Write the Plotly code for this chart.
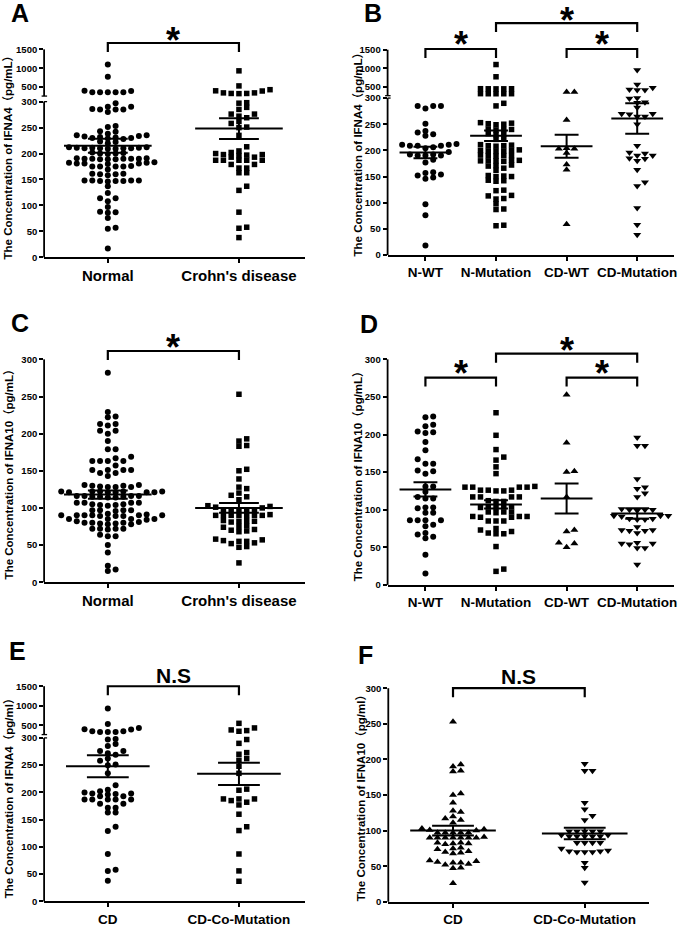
import plotly.graph_objects as go

W, H = 685, 927
FONT = "Liberation Sans, Arial, Noto Sans CJK SC, sans-serif"

# ---------------- data ----------------
# Panel A: IFNA4 (pg/mL)
A_categories = ["Normal", "Crohn's disease"]
A_normal = [1100, 770, 400, 362, 360, 360, 360, 362, 395, 297, 290, 285, 285, 280, 285, 286, 290,
            253, 251, 242, 238, 235, 234, 235, 233, 243, 230, 229, 231, 228, 230, 232, 222, 220, 223,
            212, 211, 210, 209, 210, 210, 209, 210, 211, 212, 211, 200, 201, 202, 199, 200,
            190, 191, 190, 189, 190, 190, 189, 189, 190, 191, 181, 182, 180, 183, 182, 181, 181,
            175, 175, 176, 175, 175, 169, 161, 160, 158, 160, 161, 148, 148, 147, 146, 148, 147, 147, 148,
            137, 124, 114, 114, 108, 97, 87, 86, 88, 76, 57, 55, 17]
A_crohn = [930, 530, 395, 345, 330, 325, 330, 345, 400, 430, 298, 297, 289, 285, 276, 276, 272, 269,
           262, 258, 251, 250, 235, 213, 202, 200, 205, 198, 197, 198, 196, 193, 193, 187, 187, 187,
           187, 187, 179, 179, 172, 172, 163, 163, 137, 129, 87, 58, 56, 38]
A_mean = [215, 248]
A_sem = [13.5, 20]

# Panel B: IFNA4 by genotype
B_categories = ["N-WT", "N-Mutation", "CD-WT", "CD-Mutation"]
B_nwt = [285, 285, 280, 285, 251, 231, 237, 234, 228, 209, 212, 211, 211, 209, 209, 206, 204, 197,
         190, 192, 192, 190, 190, 182, 177, 158, 157, 152, 154, 148, 146, 97, 76, 18]
B_nmut = [1100, 770, 445, 448, 446, 447, 444, 312, 313, 312, 314, 312, 290, 285,
          252, 250, 253, 251, 249, 240, 241, 239, 240, 231, 230, 232, 222, 221,
          209, 210, 208, 209, 211, 199, 200, 198, 199, 201, 200, 190, 191, 189, 190, 190,
          180, 181, 179, 180, 181, 180, 171, 172, 170, 166, 162, 152, 150, 151, 150, 142, 143, 141,
          123, 124, 114, 113, 108, 107, 98, 88, 87, 56, 57]
B_cdwt = [357, 357, 258, 203, 203, 204, 195, 173, 163, 59]
B_cdmut = [950, 562, 473, 411, 411, 429, 299, 300, 291, 292, 282, 270, 269, 270, 265, 265, 250,
           209, 196, 194, 190, 190, 185, 184, 180, 163, 139, 132, 90, 58, 39]
B_mean = [196, 228, 208, 261]
B_sem = [11, 10, 22, 29]

# Panel C: IFNA10 (pg/mL)
C_categories = ["Normal", "Crohn's disease"]
C_normal = [282, 229, 222, 223, 213, 213, 211, 204, 204, 200, 190, 179, 179, 169, 167,
            163, 163, 163, 163, 157, 151, 151, 151, 151, 147, 147, 143,
            131, 130, 129, 128, 128, 128, 130, 131,
            122, 121, 121, 121, 122, 122, 122, 121, 121, 122,
            115, 116, 114, 114, 115, 115, 116, 116, 116,
            105, 104, 103, 107, 107, 107, 105, 107, 104,
            97, 96, 97, 97, 97,
            90, 89, 90, 90, 90, 92, 91, 90, 89, 89, 90,
            85, 85, 84, 85, 85,
            79, 78, 80, 79, 80, 78, 80, 82, 81,
            72, 72, 72, 72, 71,
            64, 62, 62, 50, 40, 22, 15, 17]
C_crohn = [253, 193, 190, 184, 183, 152, 150, 139, 128, 126, 120, 117, 115, 111,
           103, 100, 101, 102, 97, 97, 97, 97, 97,
           90, 90, 91, 90, 90, 90, 90, 90,
           82, 83, 81, 82, 83, 76,
           74, 71, 69, 70, 68, 75,
           58, 55, 55, 57, 53, 56,
           48, 47, 52, 26]
C_mean = [118, 100]
C_sem = [5.5, 6.5]

# Panel D: IFNA10 by genotype
D_categories = ["N-WT", "N-Mutation", "CD-WT", "CD-Mutation"]
D_nwt = [223, 224, 213, 211, 202, 203, 204, 190, 179, 167, 161, 161, 152, 151, 148, 131, 131, 124,
         117, 115, 115, 103, 103, 102, 96, 96, 86, 86, 86, 86, 78, 80, 69, 67, 62, 64, 40, 15]
D_nmut = [229, 199, 180, 170, 166, 157, 148, 130, 130, 131, 130, 130, 125, 126, 126, 125, 126,
          117, 117, 117, 117, 111, 112, 111, 104, 103, 104, 104, 103, 97, 96, 97, 97,
          91, 90, 91, 91, 90, 85, 85, 85, 75, 73, 71, 69, 68, 68, 51, 18, 21]
D_cdwt = [253, 189, 150, 151, 117, 73, 71, 56, 50, 55]
D_cdmut = [196, 185, 185, 141, 130, 128, 122, 117, 100, 101, 100, 100, 99, 92, 91, 92, 92,
           87, 88, 87, 88, 77, 73, 72, 72, 73, 69, 55, 54, 55, 56, 49, 49, 27]
D_mean = [127, 107, 115, 95]
D_sem = [9.5, 5.5, 20, 7]

# Panel E: IFNA4 (pg/ml), CD vs CD co-mutation
E_categories = ["CD", "CD-Co-Mutation"]
E_cd = [930, 530, 395, 345, 330, 325, 330, 345, 400, 430, 298, 297, 289, 285, 276, 276, 272, 269,
        262, 258, 251, 250, 235, 213, 202, 200, 205, 198, 197, 198, 196, 193, 193, 187, 187, 187,
        187, 187, 179, 179, 172, 172, 163, 163, 137, 129, 87, 58, 56, 38]
E_comut = [550, 432, 364, 347, 381, 297, 290, 273, 270, 262, 259, 248, 235, 206, 204,
           188, 185, 188, 182, 188, 177, 160, 137, 130, 87, 56, 37]
E_mean = [248, 234]
E_sem = [20, 20.5]

# Panel F: IFNA10 (pg/ml), CD vs CD co-mutation
F_categories = ["CD", "CD-Co-Mutation"]
F_cd = [253, 193, 190, 184, 183, 152, 150, 139, 128, 126, 120, 117, 115, 111,
        103, 100, 101, 102, 97, 97, 97, 97, 97,
        90, 90, 91, 90, 90, 90, 90, 90,
        82, 83, 81, 82, 83, 76,
        74, 71, 69, 70, 68, 75,
        58, 55, 55, 57, 53, 56,
        48, 47, 52, 26]
F_comut = [194, 184, 184, 139, 130, 121, 115, 99, 99, 99, 99, 99, 92, 92, 92, 94, 92, 92, 94,
           83, 83, 83, 83, 75, 71, 71, 70, 70, 70, 72, 55, 48, 27]
F_mean = [100, 96]
F_sem = [7, 8]

LOW_TICKS = [0, 50, 100, 150, 200, 250, 300]
HIGH_TICKS = [500, 1000, 1500]

CIRC, SQ, TRI = 6, 5.5, 7

# ---------------- layout geometry (pixels) ----------------
panels = [
    dict(letter="A", lpos=(20, 13), cats=A_categories, groups=[(A_normal, "circle", CIRC), (A_crohn, "square", SQ)],
         mean=A_mean, sem=A_sem, x0=44.3, x1=306.7, cpx=[108.3, 240.0], base=259.0, p300=102.3, top=20,
         brk=(313.6, 0.0726), mhw=44, shw=20, labsize=15,
         title="The Concentration of IFNA4（pg/mL）", tpos=(8.5, 155),
         brackets=[(0, 1, 43.3, 32.5, "*", 36)]),
    dict(letter="B", lpos=(375, 13), cats=B_categories,
         groups=[(B_nwt, "circle", CIRC), (B_nmut, "square", SQ), (B_cdwt, "triangle-up", TRI), (B_cdmut, "triangle-down", TRI)],
         mean=B_mean, sem=B_sem, x0=389.3, x1=676.7, cpx=[427.3, 497.7, 568.7, 640.0], base=256.7, p300=98.7, top=5,
         brk=(307.4, 0.0708), mhw=26, shw=12, labsize=13.5,
         title="The Concentration of IFNA4（pg/mL）", tpos=(359, 152),
         brackets=[(0, 1, 49.3, 37, "*", 36), (2, 3, 49.3, 37, "*", 36), (1, 3, 23.3, 12.5, "*", 36)]),
    dict(letter="C", lpos=(20, 325), cats=C_categories, groups=[(C_normal, "circle", CIRC), (C_crohn, "square", SQ)],
         mean=C_mean, sem=C_sem, x0=44.3, x1=306.7, cpx=[108.3, 240.0], base=586.0, p300=361.7, top=330,
         brk=None, mhw=44, shw=20, labsize=15,
         title="The Concentration of IFNA10（pg/mL）", tpos=(8.5, 474),
         brackets=[(0, 1, 353.3, 342, "*", 36)]),
    dict(letter="D", lpos=(371, 326), cats=D_categories,
         groups=[(D_nwt, "circle", CIRC), (D_nmut, "square", SQ), (D_cdwt, "triangle-up", TRI), (D_cdmut, "triangle-down", TRI)],
         mean=D_mean, sem=D_sem, x0=389.3, x1=676.7, cpx=[427.3, 497.7, 568.7, 640.0], base=588.7, p300=361.7, top=335,
         brk=None, mhw=26, shw=12, labsize=13.5,
         title="The Concentration of IFNA10（pg/mL）", tpos=(359, 476),
         brackets=[(0, 1, 380, 368, "*", 36), (2, 3, 380, 368, "*", 36), (1, 3, 356, 345, "*", 36)]),
    dict(letter="E", lpos=(18, 655), cats=E_categories, groups=[(E_cd, "circle", CIRC), (E_comut, "square", SQ)],
         mean=E_mean, sem=E_sem, x0=44.3, x1=306.7, cpx=[108.3, 240.0], base=907.3, p300=742.7, top=675,
         brk=(308.8, 0.0717), mhw=42, shw=21, labsize=13.5,
         title="The Concentration of IFNA4（pg/ml）", tpos=(8.5, 800),
         brackets=[(0, 1, 690.7, 680, "N.S", 21)]),
    dict(letter="F", lpos=(367, 659), cats=F_categories, groups=[(F_cd, "triangle-up", TRI), (F_comut, "triangle-down", TRI)],
         mean=F_mean, sem=F_sem, x0=390.0, x1=651.7, cpx=[455.0, 587.3], base=907.7, p300=692.7, top=675,
         brk=None, mhw=43, shw=21, labsize=13.5,
         title="The Concentration of IFNA10（pg/ml）", tpos=(362, 800),
         brackets=[(0, 1, 692.7, 681, "N.S", 21)]),
]


def swarm(ypx, step_px, spacing_px, th_px=4.6):
    """Simple beeswarm: place points in columns so that none overlap vertically."""
    order = sorted(range(len(ypx)), key=lambda i: ypx[i])
    placed = []
    offs = [0.0] * len(ypx)
    cands = [0]
    for j in range(1, 30):
        cands += [j, -j]
    for i in order:
        y = ypx[i]
        for c in cands:
            if all(not (pc == c and abs(py - y) < th_px) for pc, py in placed):
                break
        placed.append((c, y))
        offs[i] = c * step_px / spacing_px
    return offs


def py(p):
    return 1 - p / H


def pxx(p):
    return p / W


fig = go.Figure()
shapes = []
annotations = []
layout = {}

for idx, P in enumerate(panels, start=1):
    xa = "x" if idx == 1 else f"x{idx}"
    ya = "y" if idx == 1 else f"y{idx}"
    s = (P["base"] - P["p300"]) / 300.0
    brk = P["brk"]

    def tf(v, brk=brk):
        if brk is None or v <= 300:
            return v
        return brk[0] + (v - 300) * brk[1]

    n = len(P["cats"])
    spacing = (P["cpx"][-1] - P["cpx"][0]) / (n - 1)
    xr0 = (P["x0"] - P["cpx"][0]) / spacing
    xr1 = (P["x1"] - P["cpx"][0]) / spacing
    ymax = (P["base"] - P["top"]) / s

    # points
    for gi, (vals, sym, size) in enumerate(P["groups"]):
        yt = [tf(v) for v in vals]
        offs = swarm([y * s for y in yt], 7.8, spacing)
        fig.add_trace(go.Scatter(
            x=[gi + o for o in offs], y=yt, mode="markers",
            marker=dict(symbol=sym, size=size, color="black", line=dict(width=0)),
            xaxis=xa, yaxis=ya, showlegend=False, hoverinfo="skip", cliponaxis=False))
        m, e = P["mean"][gi], P["sem"][gi]
        hw = P["mhw"] / spacing
        sw = P["shw"] / spacing
        fig.add_trace(go.Scatter(
            x=[gi - hw, gi + hw, None, gi - sw, gi + sw, None, gi - sw, gi + sw, None, gi, gi],
            y=[m, m, None, m + e, m + e, None, m - e, m - e, None, m - e, m + e],
            mode="lines", line=dict(color="black", width=2),
            xaxis=xa, yaxis=ya, showlegend=False, hoverinfo="skip"))

    # significance brackets
    for (i, j, bar_px, star_px, txt, fs) in P["brackets"]:
        yb = (P["base"] - bar_px) / s
        yd = (P["base"] - bar_px - 9) / s
        fig.add_trace(go.Scatter(
            x=[i, i, j, j], y=[yd, yb, yb, yd], mode="lines",
            line=dict(color="black", width=2.2),
            xaxis=xa, yaxis=ya, showlegend=False, hoverinfo="skip"))
        if txt == "*":
            annotations.append(dict(x=(i + j) / 2, xref=xa, y=py(star_px + 8), yref="paper",
                                    text="<b>*</b>", showarrow=False, xanchor="center", yanchor="middle",
                                    font=dict(size=fs, color="black", family=FONT)))
        else:
            annotations.append(dict(x=(i + j) / 2, xref=xa, y=py(star_px), yref="paper",
                                    text=f"<b>{txt}</b>", showarrow=False, xanchor="center", yanchor="middle",
                                    font=dict(size=fs, color="black", family=FONT)))

    # y axis ticks
    if brk is None:
        tv = [tf(v) for v in LOW_TICKS]
        tt = [str(v) for v in LOW_TICKS]
    else:
        tv = [tf(v) for v in LOW_TICKS + HIGH_TICKS]
        tt = [str(v) for v in LOW_TICKS + HIGH_TICKS]

    layout["xaxis" if idx == 1 else f"xaxis{idx}"] = dict(
        domain=[pxx(P["x0"]), pxx(P["x1"])], anchor=ya, range=[xr0, xr1],
        tickmode="array", tickvals=list(range(n)), ticktext=P["cats"],
        ticks="outside", ticklen=4, tickwidth=1.5, tickcolor="black",
        showline=True, linecolor="black", linewidth=1.8, showgrid=False, zeroline=False,
        tickfont=dict(size=P["labsize"], color="black", family=FONT, weight="bold"), fixedrange=True)
    layout["yaxis" if idx == 1 else f"yaxis{idx}"] = dict(
        domain=[py(P["base"]), py(P["top"])], anchor=xa, range=[0, ymax],
        tickmode="array", tickvals=tv, ticktext=tt,
        ticks="outside", ticklen=4, tickwidth=1.5, tickcolor="black",
        showline=False, showgrid=False, zeroline=False,
        tickfont=dict(size=9.5, color="black", family=FONT, weight="bold"), fixedrange=True)

    # y axis line (with break)
    ax = pxx(P["x0"])
    lw = 1.8
    if brk is None:
        shapes.append(dict(type="line", xref="paper", yref="paper", x0=ax, x1=ax,
                           y0=py(P["base"]), y1=py(P["p300"]), line=dict(color="black", width=lw)))
    else:
        p_lo = P["base"] - tf(300) * s
        p_up0 = P["base"] - brk[0] * s
        p_up1 = P["base"] - tf(1500) * s
        shapes.append(dict(type="line", xref="paper", yref="paper", x0=ax, x1=ax,
                           y0=py(P["base"]), y1=py(p_lo), line=dict(color="black", width=lw)))
        shapes.append(dict(type="line", xref="paper", yref="paper", x0=ax, x1=ax,
                           y0=py(p_up0 + 1.5), y1=py(p_up1), line=dict(color="black", width=lw)))
        shapes.append(dict(type="line", xref="paper", yref="paper", x0=pxx(P["x0"] - 2.5), x1=pxx(P["x0"] + 3),
                           y0=py(p_up0 + 1.5), y1=py(p_up0 + 1.5), line=dict(color="black", width=1.3)))
        shapes.append(dict(type="line", xref="paper", yref="paper", x0=pxx(P["x0"]), x1=pxx(P["x0"] + 3),
                           y0=py(p_lo), y1=py(p_lo), line=dict(color="black", width=1.3)))

    # panel letter
    annotations.append(dict(x=pxx(P["lpos"][0]), y=py(P["lpos"][1]), xref="paper", yref="paper",
                            text=f"<b>{P['letter']}</b>", showarrow=False, xanchor="center", yanchor="middle",
                            font=dict(size=25, color="black", family=FONT)))
    # y axis title
    annotations.append(dict(x=pxx(P["tpos"][0]), y=py(P["tpos"][1]), xref="paper", yref="paper",
                            text=f"<b>{P['title']}</b>", showarrow=False, textangle=-90,
                            xanchor="center", yanchor="middle",
                            font=dict(size=11.5, color="black", family=FONT)))

fig.update_layout(
    width=W, height=H, margin=dict(l=0, r=0, t=0, b=0),
    paper_bgcolor="white", plot_bgcolor="white",
    font=dict(family=FONT, color="black"),
    shapes=shapes, annotations=annotations, showlegend=False, **layout)

fig.write_html("out.html", config={"displayModeBar": False},
               post_script="document.body.style.margin='0';document.body.style.overflow='hidden';")
